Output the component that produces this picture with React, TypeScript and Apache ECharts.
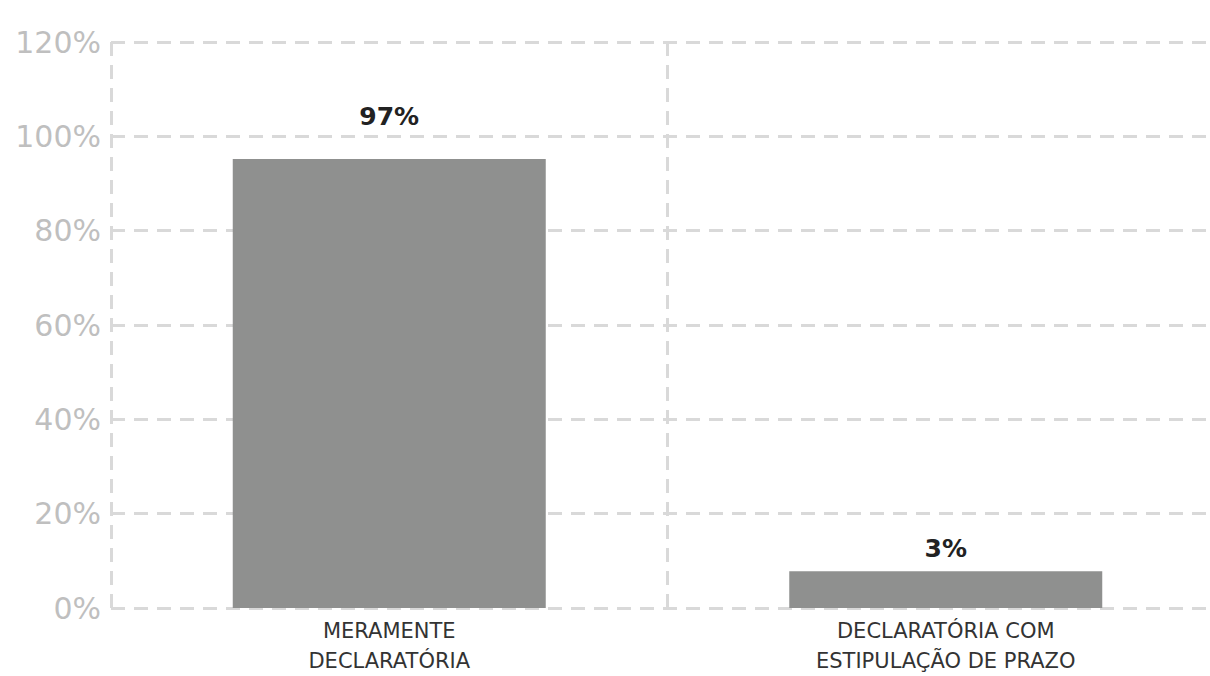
import React, { useEffect, useRef } from "react";
import * as echarts from "echarts";

const categories = ["MERAMENTE\nDECLARATÓRIA", "DECLARATÓRIA COM\nESTIPULAÇÃO DE PRAZO"];
const barValues = [95.2, 7.8];
const barLabels = ["97%", "3%"];
const labelDistances = [30, 10];
const yTicks = { min: 0, max: 120, interval: 20 };

export default function App() {
  const ref = useRef<HTMLDivElement>(null);
  useEffect(() => {
    if (!ref.current) return;
    const chart = echarts.init(ref.current, null, { renderer: "svg" });
    const grid = "#d9d9d9";
    chart.setOption({
      animation: false,
      backgroundColor: "#ffffff",
      grid: { left: 111, right: 0, top: 42, bottom: 63, containLabel: false },
      xAxis: {
        type: "category",
        data: categories,
        axisLine: { show: false },
        axisTick: { show: false },
        axisLabel: {
          color: "#333333",
          fontFamily: "DejaVu Sans",
          fontSize: 21,
          lineHeight: 30,
          margin: 8,
        },
        splitLine: { show: true, lineStyle: { color: grid, width: 3, type: [14, 9] } },
      },
      yAxis: {
        type: "value",
        min: yTicks.min,
        max: yTicks.max,
        interval: yTicks.interval,
        axisLine: { show: false },
        axisTick: { show: false },
        axisLabel: {
          color: "#bfbfbf",
          fontFamily: "DejaVu Sans",
          fontSize: 30,
          margin: 10,
          formatter: (v: number) => `${v}%`,
        },
        splitLine: { show: true, lineStyle: { color: grid, width: 3, type: [14, 9] } },
      },
      series: [
        {
          type: "bar",
          barWidth: 313,
          itemStyle: { color: "#8f908f" },
          data: barValues.map((v, i) => ({
            value: v,
            label: {
              show: true,
              position: "top",
              distance: labelDistances[i],
              formatter: barLabels[i],
              color: "#222222",
              fontFamily: "DejaVu Sans",
              fontWeight: "bold",
              fontSize: 25,
            },
          })),
        },
      ],
    });
    return () => chart.dispose();
  }, []);
  return (
    <div
      ref={ref}
      style={{ position: "fixed", left: 0, top: 0, width: 1224, height: 676, background: "#fff" }}
    />
  );
}
